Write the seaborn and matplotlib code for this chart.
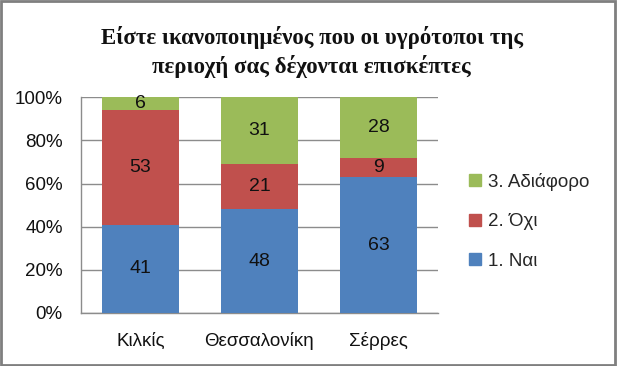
import matplotlib
matplotlib.use("Agg")
import matplotlib.pyplot as plt
from matplotlib.patches import Rectangle
from matplotlib.lines import Line2D
import seaborn as sns
import pandas as pd
import numpy as np

title = "Είστε ικανοποιημένος που οι υγρότοποι της\nπεριοχή σας δέχονται επισκέπτες"
categories = ["Κιλκίς", "Θεσσαλονίκη", "Σέρρες"]
series_names = ["1. Ναι", "2. Όχι", "3. Αδιάφορο"]
nai = [41, 48, 63]
oxi = [53, 21, 9]
adiaforo = [6, 31, 28]
yticks = [0, 20, 40, 60, 80, 100]
colors = ["#4F81BD", "#C0504D", "#9BBB59"]

sns.set_theme(style="white")
plt.rcParams["font.family"] = ["Liberation Sans", "DejaVu Sans"]

fig = plt.figure(figsize=(6.17, 3.66), dpi=100)
ax = fig.add_axes([0.131, 0.145, 0.579, 0.589])

vals = np.array([nai, oxi, adiaforo], dtype=float)
totals = vals.sum(axis=0)
pct = vals / totals * 100
cum = np.cumsum(pct, axis=0)

# draw from top cumulative to bottom so lower segments overlay
for i in [2, 1, 0]:
    df = pd.DataFrame({"cat": categories, "val": cum[i]})
    sns.barplot(data=df, x="cat", y="val", color=colors[i], width=0.645,
                saturation=1, ax=ax, zorder=3, edgecolor="none", linewidth=0)

for j in range(len(categories)):
    lower = 0
    for i in range(3):
        mid = lower + pct[i, j] / 2
        ax.text(j, mid, f"{int(vals[i, j])}", ha="center", va="center",
                fontsize=14, color="#111111", zorder=5)
        lower += pct[i, j]

ax.set_ylim(0, 100)
ax.set_xlim(-0.5, 2.5)
ax.set_yticks(yticks)
ax.set_yticklabels([f"{t}%" for t in yticks])
ax.set_xlabel("")
ax.set_ylabel("")
ax.grid(axis="y", color="#8C8C8C", linewidth=1.0, zorder=0)
ax.grid(axis="x", visible=False)
for s in ["top", "right"]:
    ax.spines[s].set_visible(False)
for s in ["left", "bottom"]:
    ax.spines[s].set_color("#8C8C8C")
    ax.spines[s].set_linewidth(1.0)
ax.tick_params(axis="y", length=0, pad=13, labelsize=13.5, colors="#111111")
ax.tick_params(axis="x", length=0, pad=14, labelsize=13.5, colors="#111111")

fig.text(0.505, 0.858, title, ha="center", va="center", fontsize=16.5,
         fontweight="bold", family=["Liberation Serif", "DejaVu Serif"],
         linespacing=1.3, color="#111111")

handles = [Line2D([0], [0], marker="s", linestyle="none", markersize=8,
                  markerfacecolor=colors[i], markeredgecolor=colors[i])
           for i in [2, 1, 0]]
labels = [series_names[i] for i in [2, 1, 0]]
fig.legend(handles, labels, loc="center left", bbox_to_anchor=(0.745, 0.395),
           frameon=False, fontsize=13.5, handlelength=0.8, handletextpad=0.3,
           labelspacing=1.2, borderaxespad=0)

fig.patches.append(Rectangle((0.002, 0.003), 0.995, 0.993, transform=fig.transFigure,
                             fill=False, edgecolor="#7F7F7F", linewidth=2.0))

fig.savefig("out.png", dpi=100)
